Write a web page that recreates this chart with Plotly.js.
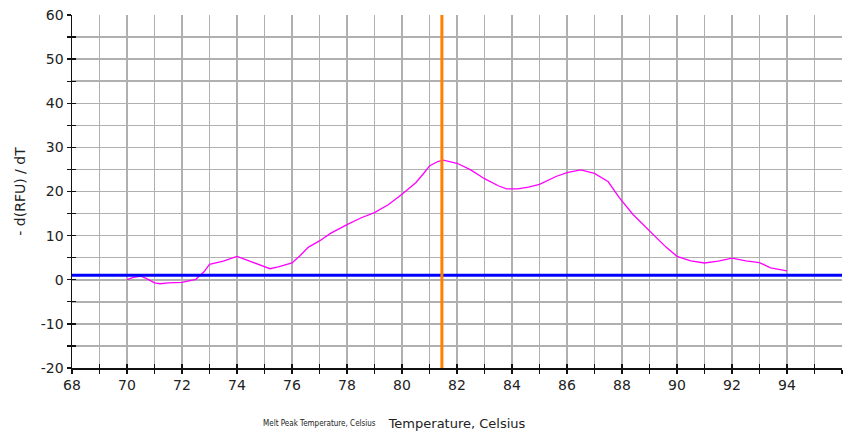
<!DOCTYPE html>
<html>
<head>
<meta charset="utf-8">
<script src="https://cdn.plot.ly/plotly-3.0.1.min.js"></script>
<style>
  html, body { margin: 0; padding: 0; background: #ffffff; }
  #chart { width: 850px; height: 434px; }
</style>
</head>
<body>
<div id="chart"></div>
<script>
// Melt curve: negative derivative of fluorescence vs temperature
const temperature = [70.0, 70.2, 70.5, 70.7, 71.0, 71.2, 71.5, 72.0, 72.5, 72.8, 73.0, 73.5, 74.0, 74.5, 75.0, 75.2, 75.5, 76.0, 76.3, 76.6,
  77.0, 77.4, 78.0, 78.5, 79.0, 79.5, 80.0, 80.5, 80.8, 81.0, 81.3, 81.5, 82.0, 82.5, 83.0, 83.5, 83.8, 84.2, 84.6, 85.0,
  85.6, 86.0, 86.5, 87.0, 87.5, 87.9, 88.4, 89.0, 89.6, 90.0, 90.5, 91.0, 91.5, 92.0, 92.5, 93.0, 93.4, 94.0];
const negDerivative = [0.0, 0.5, 0.8, 0.3, -0.7, -0.9, -0.7, -0.6, 0.1, 1.8, 3.5, 4.2, 5.3, 4.1, 2.8, 2.5, 2.9, 3.8, 5.5, 7.4,
  8.8, 10.5, 12.5, 14.0, 15.2, 17.0, 19.4, 22.0, 24.2, 25.8, 26.8, 27.1, 26.4, 24.9, 22.9, 21.3, 20.6, 20.6, 21.0, 21.6,
  23.4, 24.3, 24.9, 24.1, 22.2, 18.6, 14.8, 11.2, 7.4, 5.3, 4.3, 3.8, 4.2, 4.9, 4.3, 3.9, 2.7, 2.0];

// Threshold level and melt peak marker
const threshold = 1;
const meltPeak = 81.45;

// Axis ranges and ticks (labels on every other step)
const xRange = [68, 96];
const yRange = [-20, 60];
const xTickVals = [68, 69, 70, 71, 72, 73, 74, 75, 76, 77, 78, 79, 80, 81, 82, 83, 84, 85, 86, 87, 88, 89, 90, 91, 92, 93, 94, 95, 96];
const xTickText = ["68", "", "70", "", "72", "", "74", "", "76", "", "78", "", "80", "", "82", "", "84", "", "86", "", "88", "", "90", "", "92", "", "94", "", "96"];
const yTickVals = [-20, -15, -10, -5, 0, 5, 10, 15, 20, 25, 30, 35, 40, 45, 50, 55, 60];
const yTickText = ["-20", "", "-10", "", "0", "", "10", "", "20", "", "30", "", "40", "", "50", "", "60"];

const xTitle = "Temperature, Celsius";
const yTitle = "- d(RFU) / dT";
const peakLabel = "Melt Peak Temperature, Celsius";

const FONT = "DejaVu Sans, Verdana, sans-serif";
const GRID = "#b0b0b0";
const INK = "#111111";

const traces = [
  {
    x: temperature, y: negDerivative, type: "scatter", mode: "lines",
    line: { color: "#ff00ff", width: 1.3 }, hoverinfo: "skip"
  },
  {
    x: xRange, y: [threshold, threshold], type: "scatter", mode: "lines",
    line: { color: "#0000ff", width: 3 }, hoverinfo: "skip"
  },
  {
    x: [meltPeak, meltPeak], y: yRange, type: "scatter", mode: "lines",
    line: { color: "#ff8000", width: 3 }, hoverinfo: "skip"
  },
  // invisible carrier for the inward tick marks on the overlay axes
  {
    x: xRange, y: yRange, xaxis: "x2", yaxis: "y2", type: "scatter", mode: "none",
    hoverinfo: "skip", showlegend: false
  }
];

const layout = {
  width: 850, height: 434,
  margin: { l: 72, r: 8, t: 15, b: 66 },
  paper_bgcolor: "#ffffff", plot_bgcolor: "#ffffff",
  showlegend: false,
  font: { family: FONT, size: 14, color: "#222222" },
  xaxis: {
    range: xRange, tickmode: "array", tickvals: xTickVals, ticktext: xTickText,
    showgrid: true, gridcolor: GRID, gridwidth: 1.5,
    zeroline: false, showline: true, linecolor: INK, linewidth: 1.5,
    ticks: "outside", ticklen: 4, tickwidth: 1.3, tickcolor: INK,
    tickfont: { family: FONT, size: 14, color: "#222222" },
    title: { text: xTitle, font: { family: FONT, size: 13, color: "#222222" }, standoff: 26 },
    fixedrange: true
  },
  yaxis: {
    range: yRange, tickmode: "array", tickvals: yTickVals, ticktext: yTickText,
    showgrid: true, gridcolor: GRID, gridwidth: 1.5,
    zeroline: false, showline: true, linecolor: INK, linewidth: 1.5,
    ticks: "outside", ticklen: 4, tickwidth: 1.3, tickcolor: INK,
    tickfont: { family: FONT, size: 14, color: "#222222" },
    title: { text: yTitle, font: { family: FONT, size: 14, color: "#222222" }, standoff: 12 },
    fixedrange: true
  },
  xaxis2: {
    overlaying: "x", matches: "x", range: xRange, tickmode: "array", tickvals: xTickVals,
    showticklabels: false, showgrid: false, zeroline: false,
    ticks: "inside", ticklen: 4, tickwidth: 1.3, tickcolor: INK, anchor: "y2", side: "bottom"
  },
  yaxis2: {
    overlaying: "y", matches: "y", range: yRange, tickmode: "array", tickvals: yTickVals,
    showticklabels: false, showgrid: false, zeroline: false,
    ticks: "inside", ticklen: 4, tickwidth: 1.3, tickcolor: INK, anchor: "x2", side: "left"
  },
  annotations: [
    {
      text: peakLabel, xref: "paper", yref: "paper", x: (378 - 72) / 770, y: -(423 - 368) / 353,
      xanchor: "right", yanchor: "middle", showarrow: false,
      font: { family: "DejaVu Sans Condensed, DejaVu Sans, sans-serif", size: 8, color: "#222222" }
    }
  ]
};

Plotly.newPlot("chart", traces, layout, { staticPlot: true, displayModeBar: false });
</script>
</body>
</html>
